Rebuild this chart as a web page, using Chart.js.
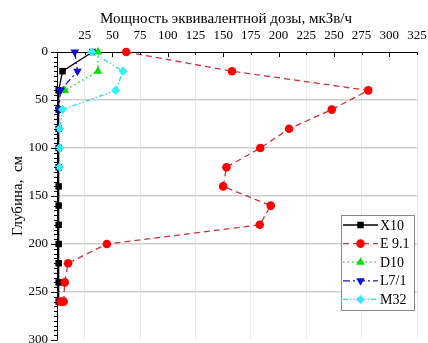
<!DOCTYPE html>
<html>
<head>
<meta charset="utf-8">
<script src="https://cdn.jsdelivr.net/npm/chart.js@4"></script>
<style>
html,body{margin:0;padding:0;background:#fff;overflow:hidden;}
#wrap{width:428px;height:352px;position:relative;}
</style>
</head>
<body>
<div id="wrap"><canvas id="c"></canvas></div>
<script>
// ---- data ----
const xTitle = 'Мощность эквивалентной дозы, мкЗв/ч';
const yTitle = 'Глубина,  см';
const seriesNames = ['X10', 'E 9.1', 'D10', 'L7/1', 'M32'];

const depthX10 = [0, 20, 40, 60, 80, 100, 120, 140, 160, 180, 200, 220, 240, 260];
const doseX10  = [32, 5, 1.5, 1.5, 1.5, 1.5, 1.5, 1.5, 1.5, 1.5, 1.5, 1.5, 1.5, 1.5];

const depthE91 = [0, 20, 40, 60, 80, 100, 120, 140, 160, 180, 200, 220, 240, 260, 260];
const doseE91  = [62.5, 158, 281, 248, 209.5, 183.5, 153, 150, 193, 183, 45, 10, 7, 6, 3.3];

const depthD10 = [0, 20, 40];
const doseD10  = [37, 37, 7];

const depthL71 = [0, 20, 40, 60];
const doseL71  = [16, 18.5, 3, 1.8];

const depthM32 = [0, 20, 40, 60, 80, 100, 120];
const doseM32  = [31.5, 59.6, 53, 5, 2.3, 2.3, 2.3];

const xMin = 0, xMax = 325, xStep = 25;
const yMin = 0, yMax = 300, yStep = 50, yMinorStep = 5;

// ---- build datasets ----
function pts(xs, ys) { return xs.map((d, i) => ({ x: ys[i], y: d })); }

const styles = [
  { line: '#000000', fill: '#000000', dash: [], style: 'rect', radius: 4.6, rot: 0 },
  { line: '#c8343c', fill: '#ff0000', dash: [6, 4], style: 'circle', radius: 4.3, rot: 0 },
  { line: '#22d022', fill: '#00e000', dash: [1.5, 3], style: 'triangle', radius: 5, rot: 0 },
  { line: '#1a1aa0', fill: '#1010d0', dash: [7, 3, 2, 3], style: 'triangle', radius: 5, rot: 180 },
  { line: '#30d8e8', fill: '#30f0ff', dash: [5, 2, 1.5, 2, 1.5, 2], style: 'rectRot', radius: 4.6, rot: 0 }
];
const seriesData = [
  pts(depthX10, doseX10), pts(depthE91, doseE91), pts(depthD10, doseD10),
  pts(depthL71, doseL71), pts(depthM32, doseM32)
];

const datasets = seriesNames.map((n, i) => ({
  label: n,
  data: seriesData[i],
  showLine: true,
  borderColor: styles[i].line,
  borderWidth: 1.3,
  borderDash: styles[i].dash,
  pointStyle: styles[i].style,
  pointRotation: styles[i].rot,
  pointRadius: styles[i].radius,
  pointHoverRadius: styles[i].radius,
  pointBackgroundColor: styles[i].fill,
  pointBorderColor: styles[i].fill,
  pointBorderWidth: 0,
  clip: false,
  order: 4 - i
}));

const SERIF = '"Liberation Serif", "DejaVu Serif", serif';

function drawMarker(ctx, st, x, y) {
  ctx.save();
  ctx.fillStyle = st.fill; ctx.strokeStyle = st.fill; ctx.lineWidth = 0.01;
  Chart.helpers.drawPoint(ctx, { pointStyle: st.style, radius: st.radius, rotation: st.rot, borderWidth: 0.01 }, x, y);
  ctx.restore();
}

// ---- custom plugin: tick marks, title, legend ----
const decor = {
  id: 'decor',
  afterDraw(chart) {
    const ctx = chart.ctx, ca = chart.chartArea;
    const xs = chart.scales.x, ys = chart.scales.y;
    ctx.save();
    ctx.strokeStyle = '#000'; ctx.lineWidth = 1;
    // y ticks (outside, left)
    for (let v = yMin; v <= yMax; v += yMinorStep) {
      const py = Math.round(ys.getPixelForValue(v)) + 0.5;
      const len = (v % yStep === 0) ? 6 : 3;
      ctx.beginPath(); ctx.moveTo(ca.left, py); ctx.lineTo(ca.left - len, py); ctx.stroke();
    }
    // x ticks (inside, down)
    for (let v = xMin + xStep; v <= xMax; v += xStep) {
      const px = Math.round(xs.getPixelForValue(v)) + 0.5;
      const len = (v % 50 === 0) ? 5 : 3;
      ctx.beginPath(); ctx.moveTo(px, ca.top); ctx.lineTo(px, ca.top + len); ctx.stroke();
    }
    // top title
    ctx.fillStyle = '#000';
    ctx.font = '15px ' + SERIF;
    ctx.textAlign = 'center'; ctx.textBaseline = 'middle';
    ctx.fillText(xTitle, 226, 19);

    // legend
    const lx = ca.right - 76, ly = ca.top + 163, lw = 73, lh = 95;
    ctx.fillStyle = '#fff';
    ctx.fillRect(lx, ly, lw, lh);
    ctx.strokeStyle = '#888'; ctx.lineWidth = 1;
    ctx.strokeRect(Math.round(lx) + 0.5, Math.round(ly) + 0.5, lw, lh);
    ctx.font = '14px ' + SERIF;
    ctx.textAlign = 'left'; ctx.textBaseline = 'middle';
    for (let i = 0; i < seriesNames.length; i++) {
      const cy = ly + 10 + i * 18.6;
      const st = styles[i];
      ctx.strokeStyle = st.line; ctx.lineWidth = 1.3;
      ctx.setLineDash(st.dash);
      ctx.beginPath(); ctx.moveTo(lx + 2, cy); ctx.lineTo(lx + 37, cy); ctx.stroke();
      ctx.setLineDash([]);
      drawMarker(ctx, st, lx + 19.5, cy);
      ctx.fillStyle = '#000';
      ctx.fillText(seriesNames[i], lx + 39, cy + 1);
    }
    ctx.restore();
  }
};

new Chart(document.getElementById('c'), {
  type: 'scatter',
  data: { datasets },
  plugins: [decor],
  options: {
    responsive: true,
    maintainAspectRatio: false,
    animation: false,
    devicePixelRatio: 1,
    layout: { padding: { top: 0, right: 11, bottom: 12, left: 0 } },
    plugins: { legend: { display: false }, tooltip: { enabled: false }, title: { display: false } },
    scales: {
      x: {
        type: 'linear', position: 'top', min: xMin, max: xMax,
        afterFit(s) { s.height = 52; s.paddingLeft = 0; s.paddingRight = 0; },
        ticks: {
          stepSize: xStep, color: '#000', padding: 9,
          font: { family: SERIF, size: 13 },
          callback: v => (v === 0 ? '' : v)
        },
        grid: {
          drawTicks: false,
          color: c => (c.tick && c.tick.value % 50 === 25) ? '#ececec' : 'rgba(0,0,0,0)',
          lineWidth: 1
        },
        border: { display: true, color: '#000', width: 1 }
      },
      y: {
        type: 'linear', reverse: true, min: yMin, max: yMax,
        afterFit(s) { s.width = 57; s.paddingTop = 0; s.paddingBottom = 0; },
        title: {
          display: true, text: yTitle, color: '#000',
          font: { family: SERIF, size: 15 }, padding: { top: 9, bottom: 0 }
        },
        ticks: {
          stepSize: yStep, color: '#000', padding: 9,
          font: { family: SERIF, size: 13 }
        },
        grid: {
          drawTicks: false,
          color: c => (c.tick && c.tick.value > yMin && c.tick.value < yMax) ? '#cfcfcf' : 'rgba(0,0,0,0)',
          lineWidth: 1.6
        },
        border: { display: true, color: '#000', width: 1 }
      }
    }
  }
});
</script>
</body>
</html>
